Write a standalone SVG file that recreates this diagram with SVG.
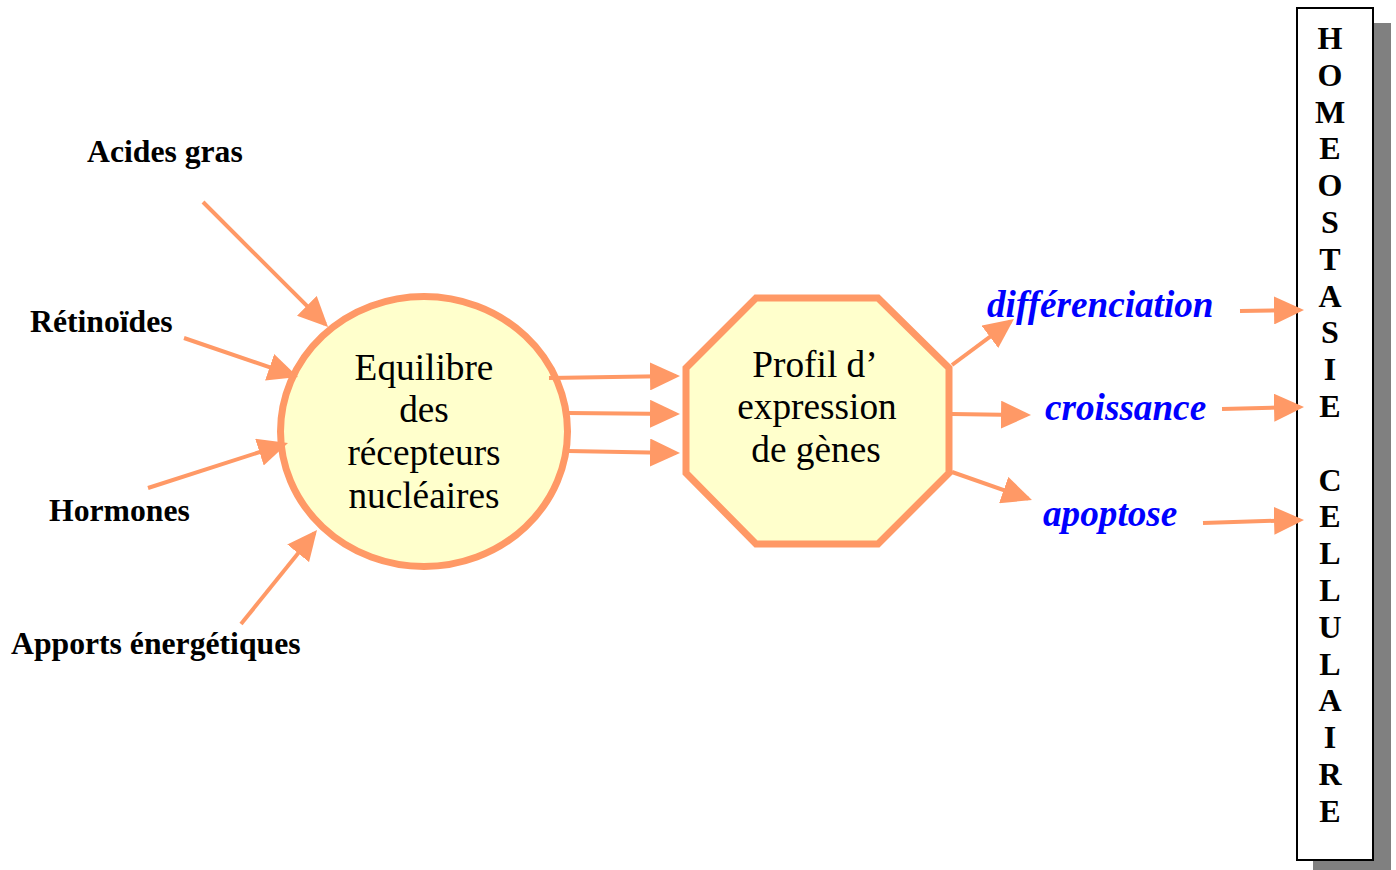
<svg xmlns="http://www.w3.org/2000/svg" width="1396" height="870" viewBox="0 0 1396 870">
<defs>
<marker id="ah" markerUnits="userSpaceOnUse" markerWidth="30" markerHeight="28" refX="26" refY="14" orient="auto">
<path d="M0,0 L30,14 L0,28 z" fill="#FF9966"/>
</marker>
<style>
.node{fill:#FFFFCC;stroke:#FF9966;stroke-width:7}
.conn line{stroke:#FF9966;stroke-width:4;marker-end:url(#ah)}
.lbl{font-family:"Liberation Serif","Times New Roman",serif;font-weight:bold;font-size:31.7px;fill:#000}
.ctr{font-family:"Liberation Serif","Times New Roman",serif;font-size:37.3px;fill:#000;text-anchor:middle}
.out{font-family:"Liberation Serif","Times New Roman",serif;font-weight:bold;font-style:italic;font-size:37.2px;fill:#0000FF}
.vert{font-family:"Liberation Serif","Times New Roman",serif;font-weight:bold;font-size:32px;fill:#000;text-anchor:middle}
</style>
</defs>
<rect width="1396" height="870" fill="#fff"/>

<g id="input-labels">
<text class="lbl" x="87" y="162">Acides gras</text>
<text class="lbl" x="30" y="332">Rétinoïdes</text>
<text class="lbl" x="49" y="521">Hormones</text>
<text class="lbl" x="11" y="654">Apports énergétiques</text>
</g>

<g id="equilibre">
<ellipse class="node" cx="424" cy="431.5" rx="143.5" ry="135"/>
<text class="ctr" x="424" y="380">Equilibre</text>
<text class="ctr" x="424" y="422">des</text>
<text class="ctr" x="424" y="465">récepteurs</text>
<text class="ctr" x="424" y="508">nucléaires</text>
</g>

<g id="profil">
<polygon class="node" points="756,298 878,298 949,368 949,473 878,544 756,544 686,473 686,368"/>
<text class="ctr" x="815" y="377">Profil d’</text>
<text class="ctr" x="817" y="419">expression</text>
<text class="ctr" x="816" y="462">de gènes</text>
</g>

<g id="outputs">
<text class="out" x="987" y="317">différenciation</text>
<text class="out" x="1045" y="420">croissance</text>
<text class="out" x="1043" y="526">apoptose</text>
</g>

<g id="homeostasie">
<rect x="1313" y="23" width="78" height="852" fill="#808080"/>
<rect x="1297" y="8" width="76" height="852" fill="#fff" stroke="#000" stroke-width="2"/>
<text class="vert" x="1330" y="49">H</text>
<text class="vert" x="1330" y="85.8">O</text>
<text class="vert" x="1330" y="122.6">M</text>
<text class="vert" x="1330" y="159.4">E</text>
<text class="vert" x="1330" y="196.2">O</text>
<text class="vert" x="1330" y="233">S</text>
<text class="vert" x="1330" y="269.8">T</text>
<text class="vert" x="1330" y="306.6">A</text>
<text class="vert" x="1330" y="343.4">S</text>
<text class="vert" x="1330" y="380.2">I</text>
<text class="vert" x="1330" y="417">E</text>
<text class="vert" x="1330" y="490.6">C</text>
<text class="vert" x="1330" y="527.4">E</text>
<text class="vert" x="1330" y="564.2">L</text>
<text class="vert" x="1330" y="601">L</text>
<text class="vert" x="1330" y="637.8">U</text>
<text class="vert" x="1330" y="674.6">L</text>
<text class="vert" x="1330" y="711.4">A</text>
<text class="vert" x="1330" y="748.2">I</text>
<text class="vert" x="1330" y="785">R</text>
<text class="vert" x="1330" y="821.8">E</text>
</g>

<g id="connectors" class="conn">
<line x1="203" y1="202" x2="325.2" y2="324.2"/>
<line x1="184" y1="338" x2="294.2" y2="375.7"/>
<line x1="148" y1="488" x2="284.2" y2="444.2"/>
<line x1="241" y1="624" x2="314.5" y2="533.1"/>
<line x1="549" y1="378" x2="676" y2="376"/>
<line x1="568" y1="413" x2="676" y2="414"/>
<line x1="568" y1="451" x2="676" y2="453"/>
<line x1="952" y1="365" x2="1010.7" y2="321.3"/>
<line x1="952" y1="414" x2="1027" y2="415"/>
<line x1="952" y1="472" x2="1028.2" y2="498.7"/>
<line x1="1240" y1="311" x2="1300" y2="310"/>
<line x1="1222" y1="409" x2="1300" y2="407"/>
<line x1="1203" y1="523" x2="1300" y2="520"/>
</g>
</svg>
